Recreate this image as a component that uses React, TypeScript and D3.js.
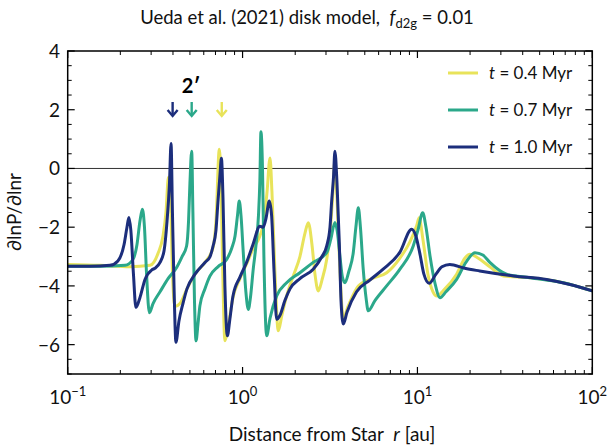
import React from 'react';
import * as d3 from 'd3';

const W = 610, H = 447;
const PL = 67.7, PR = 592.3, PT = 51, PB = 374;

// t = 0.4 Myr
const logR_04 = [-1.0,-0.815,-0.644,-0.529,-0.484,-0.455,-0.438,-0.424,-0.412,-0.401,-0.387,-0.358,-0.318,-0.272,-0.215,-0.169,-0.152,-0.133,-0.123,-0.115,-0.101,-0.083,-0.055,-0.015,0.023,0.059,0.099,0.122,0.140,0.157,0.168,0.185,0.204,0.225,0.254,0.290,0.328,0.357,0.376,0.397,0.414,0.433,0.454,0.481,0.500,0.517,0.528,0.540,0.557,0.576,0.603,0.662,0.740,0.824,0.900,0.957,0.995,1.010,1.031,1.060,1.089,1.110,1.157,1.224,1.272,1.300,1.346,1.414,1.491,1.643,1.834,2.0];
const dlnP_04 = [-3.27,-3.3,-3.35,-3.3,-2.9,-2.3,-1.5,-0.3,-1.0,-3.5,-4.7,-4.6,-4.1,-3.6,-3.2,-2.7,-1.8,0.65,-0.5,-3.0,-5.87,-5.4,-4.4,-3.75,-3.25,-2.75,-2.3,-1.8,-0.8,0.36,-0.8,-3.5,-5.53,-5.0,-4.3,-3.66,-3.0,-2.2,-1.85,-2.6,-3.6,-4.17,-3.8,-3.1,-2.2,-0.8,0.3,-1.0,-3.5,-5.1,-4.7,-4.0,-3.75,-3.55,-3.05,-2.5,-1.96,-1.68,-2.4,-3.6,-4.2,-4.34,-4.1,-3.6,-3.05,-2.92,-3.05,-3.35,-3.66,-3.72,-3.89,-4.17];

// t = 0.7 Myr
const logR_07 = [-1.0,-0.815,-0.672,-0.627,-0.604,-0.587,-0.573,-0.561,-0.549,-0.533,-0.512,-0.472,-0.426,-0.377,-0.346,-0.320,-0.309,-0.301,-0.291,-0.284,-0.275,-0.266,-0.255,-0.244,-0.215,-0.186,-0.141,-0.091,-0.061,-0.043,-0.029,-0.019,-0.009,0.004,0.019,0.033,0.045,0.061,0.077,0.091,0.099,0.105,0.114,0.122,0.138,0.157,0.195,0.252,0.328,0.404,0.481,0.505,0.528,0.543,0.557,0.571,0.586,0.608,0.633,0.648,0.662,0.674,0.690,0.706,0.719,0.757,0.824,0.900,0.976,1.003,1.030,1.049,1.072,1.100,1.129,1.163,1.224,1.277,1.329,1.374,1.414,1.510,1.643,1.834,2.0];
const dlnP_07 = [-3.33,-3.33,-3.3,-3.1,-2.6,-1.8,-1.39,-2.0,-3.6,-4.91,-4.6,-4.2,-3.75,-3.37,-3.0,-2.64,-1.8,-0.5,0.59,-1.5,-4.5,-5.87,-5.3,-4.68,-4.1,-3.66,-3.35,-3.1,-2.7,-2.3,-1.6,-1.11,-1.6,-2.86,-4.2,-4.8,-4.4,-3.43,-2.6,-1.6,-0.4,1.25,0.0,-3.0,-5.7,-5.1,-4.34,-3.89,-3.55,-3.2,-2.87,-2.4,-1.84,-2.2,-3.0,-3.7,-3.89,-3.5,-2.87,-2.0,-1.34,-2.0,-3.43,-4.4,-4.85,-4.5,-4.0,-3.43,-2.64,-2.1,-1.51,-2.0,-2.98,-3.9,-4.4,-4.2,-3.78,-3.2,-2.87,-2.95,-3.2,-3.6,-3.72,-3.89,-4.17];

// t = 1.0 Myr
const logR_10 = [-1.0,-0.873,-0.758,-0.713,-0.678,-0.661,-0.650,-0.639,-0.624,-0.610,-0.587,-0.558,-0.518,-0.501,-0.472,-0.449,-0.432,-0.418,-0.409,-0.401,-0.392,-0.381,-0.364,-0.341,-0.318,-0.272,-0.215,-0.186,-0.169,-0.152,-0.141,-0.129,-0.121,-0.112,-0.101,-0.087,-0.072,-0.055,-0.015,0.023,0.059,0.099,0.118,0.134,0.153,0.166,0.180,0.195,0.214,0.242,0.271,0.328,0.404,0.454,0.481,0.500,0.509,0.520,0.528,0.540,0.553,0.563,0.576,0.597,0.652,0.728,0.804,0.900,0.967,0.991,1.014,1.037,1.067,1.106,1.140,1.185,1.271,1.356,1.548,1.739,1.872,2.0];
const dlnP_10 = [-3.33,-3.33,-3.3,-3.15,-2.6,-2.0,-1.67,-2.1,-3.6,-4.73,-4.4,-3.78,-3.45,-3.4,-3.2,-2.8,-1.8,-0.5,0.85,-1.5,-4.0,-5.92,-5.2,-4.6,-4.1,-3.6,-3.2,-3.0,-2.65,-2.1,-1.16,-0.2,0.35,-1.0,-4.0,-5.7,-5.1,-4.35,-3.7,-3.2,-2.6,-1.97,-2.0,-1.7,-1.11,-1.6,-3.5,-5.14,-5.0,-4.5,-4.1,-3.75,-3.43,-3.0,-2.64,-2.0,-1.16,-0.3,0.59,-0.5,-2.5,-4.5,-5.3,-4.9,-4.2,-3.8,-3.43,-2.85,-2.07,-2.3,-2.9,-3.6,-3.91,-3.6,-3.35,-3.27,-3.4,-3.49,-3.66,-3.78,-3.95,-4.17];

const seriesLabels = ['0.4', '0.7', '1.0'];
const seriesColors = ['#e8e35a', '#2ba88a', '#1c2e7c'];
// arrow markers (log10 r in au) for the "2′" feature
const arrowLogR = [-0.400, -0.291, -0.119];
const arrowColors = ['#1c2e7c', '#2ba88a', '#e8e35a'];

const yMajor = [-6, -4, -2, 0, 2, 4];
const xMajor = [0.1, 1, 10, 100];
const xMajorExp = ['−1', '0', '1', '2'];

const FONT = 'Lato, "Open Sans", sans-serif';

export default function App() {
  const x = d3.scaleLog().domain([0.1, 100]).range([PL, PR]);
  const y = d3.scaleLinear().domain([-7, 4]).range([PB, PT]);

  const series = [
    { lr: logR_04, v: dlnP_04 },
    { lr: logR_07, v: dlnP_07 },
    { lr: logR_10, v: dlnP_10 },
  ];
  const line = d3.line<[number, number]>()
    .x(d => x(Math.pow(10, d[0])))
    .y(d => y(d[1]))
    .curve(d3.curveMonotoneX);

  const xMinor: number[] = [];
  for (let e = -1; e < 2; e++) for (let k = 2; k <= 9; k++) xMinor.push(k * Math.pow(10, e));
  const yMinor: number[] = [];
  for (let v = -7; v <= 4.001; v += 0.5) if (Math.abs(v % 2) > 1e-6) yMinor.push(v);

  const majLen = 7, minLen = 4;

  return (
    <svg width={W} height={H} style={{ position: 'absolute', left: 0, top: 0, background: '#fff' }} fontFamily={FONT}>
      <defs>
        <clipPath id="plotclip"><rect x={PL} y={PT} width={PR - PL} height={PB - PT} /></clipPath>
      </defs>
      {/* title */}
      <text x={307} y={24} textAnchor="middle" fontSize={18.5} fill="#111">
        Ueda et al. (2021) disk model,{'\u00a0\u00a0'}<tspan fontStyle="italic">f</tspan><tspan fontSize={13} dy={4}>d2g</tspan><tspan dy={-4}> = 0.01</tspan>
      </text>

      {/* zero line */}
      <line x1={PL} x2={PR} y1={y(0)} y2={y(0)} stroke="#333" strokeWidth={1} />

      {/* series */}
      <g clipPath="url(#plotclip)">
        {series.map((s, i) => (
          <path key={i} d={line(s.lr.map((lr, j) => [lr, s.v[j]] as [number, number])) || ''}
            fill="none" stroke={seriesColors[i]} strokeWidth={3} strokeLinejoin="round" />
        ))}
      </g>

      {/* arrows */}
      {arrowLogR.map((lr, i) => {
        const ax = x(Math.pow(10, lr));
        return (
          <g key={i} stroke={arrowColors[i]} strokeWidth={2.4} fill="none" strokeLinecap="butt">
            <line x1={ax} x2={ax} y1={102} y2={116} />
            <polyline points={`${ax - 5},${110} ${ax},${116} ${ax + 5},${110}`} />
          </g>
        );
      })}
      <text x={191} y={93} textAnchor="middle" fontSize={20} fontWeight="bold" fill="#000">2′</text>

      {/* frame */}
      <rect x={PL} y={PT} width={PR - PL} height={PB - PT} fill="none" stroke="#000" strokeWidth={1.5} />

      {/* x ticks */}
      {xMajor.map((v, i) => (
        <g key={'xm' + i}>
          <line x1={x(v)} x2={x(v)} y1={PB} y2={PB - majLen} stroke="#000" strokeWidth={1.2} />
          <line x1={x(v)} x2={x(v)} y1={PT} y2={PT + majLen} stroke="#000" strokeWidth={1.2} />
          <text x={x(v)} y={404} textAnchor="middle" fontSize={19} fill="#111">
            10<tspan fontSize={13} dy={-8}>{xMajorExp[i]}</tspan>
          </text>
        </g>
      ))}
      {xMinor.map((v, i) => (
        <g key={'xn' + i}>
          <line x1={x(v)} x2={x(v)} y1={PB} y2={PB - minLen} stroke="#000" strokeWidth={1} />
          <line x1={x(v)} x2={x(v)} y1={PT} y2={PT + minLen} stroke="#000" strokeWidth={1} />
        </g>
      ))}

      {/* y ticks */}
      {yMajor.map((v, i) => (
        <g key={'ym' + i}>
          <line x1={PL} x2={PL + majLen} y1={y(v)} y2={y(v)} stroke="#000" strokeWidth={1.2} />
          <line x1={PR} x2={PR - majLen} y1={y(v)} y2={y(v)} stroke="#000" strokeWidth={1.2} />
          <text x={60} y={y(v) + 7} textAnchor="end" fontSize={19} fill="#111">{v < 0 ? '−' + Math.abs(v) : String(v)}</text>
        </g>
      ))}
      {yMinor.map((v, i) => (
        <g key={'yn' + i}>
          <line x1={PL} x2={PL + minLen} y1={y(v)} y2={y(v)} stroke="#000" strokeWidth={1} />
          <line x1={PR} x2={PR - minLen} y1={y(v)} y2={y(v)} stroke="#000" strokeWidth={1} />
        </g>
      ))}

      {/* axis labels */}
      <text x={332} y={441} textAnchor="middle" fontSize={19} fill="#111">
        Distance from Star{'\u00a0\u00a0'}<tspan fontStyle="italic">r</tspan> [au]
      </text>
      <text transform={`translate(21,212) rotate(-90)`} textAnchor="middle" fontSize={19} fill="#111">
        ∂lnP/∂lnr
      </text>

      {/* legend */}
      {seriesLabels.map((lab, i) => {
        const ly = 73 + i * 37;
        return (
          <g key={'lg' + i}>
            <line x1={448} x2={478} y1={ly} y2={ly} stroke={seriesColors[i]} strokeWidth={3} />
            <text x={489} y={ly + 6} fontSize={17} fill="#111">
              <tspan fontStyle="italic">t</tspan> = {lab} Myr
            </text>
          </g>
        );
      })}
    </svg>
  );
}
